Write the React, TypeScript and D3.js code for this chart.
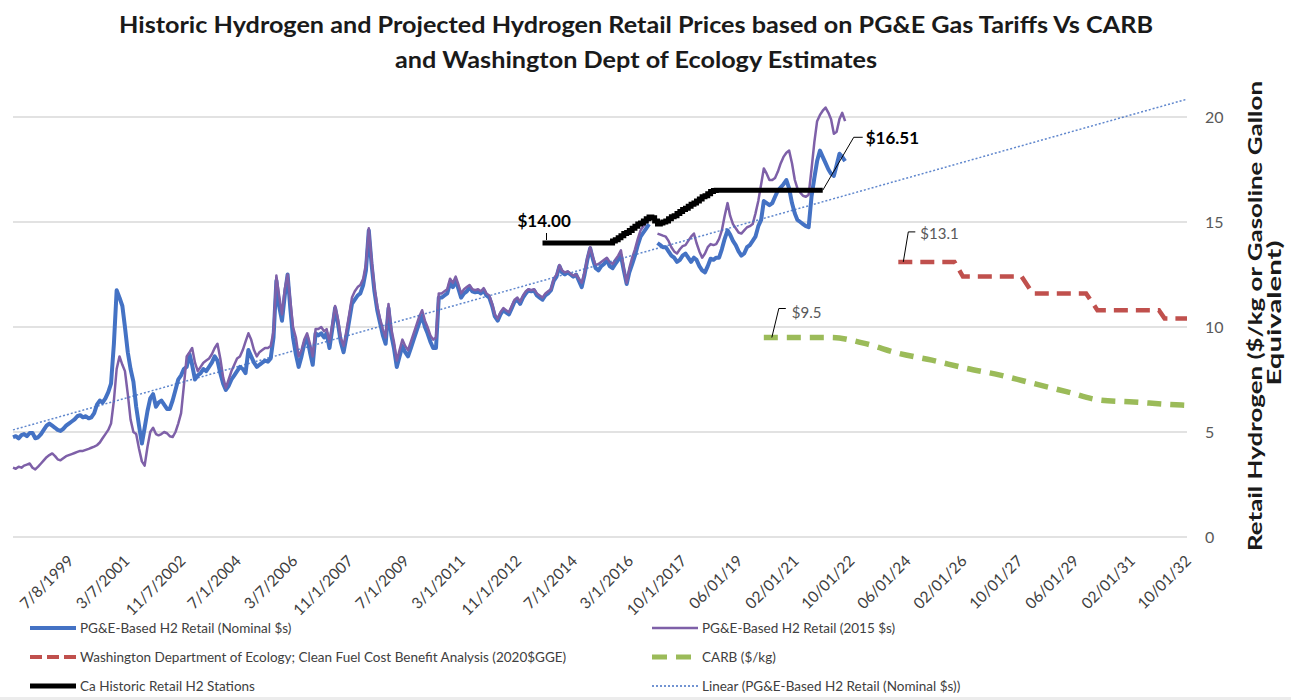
import { useEffect, useRef } from 'react';
import * as d3 from 'd3';

const WIDTH = 1291;
const HEIGHT = 700;
const FONT = 'Lato, "Open Sans", "DejaVu Sans", sans-serif';

const titleLines = [
  'Historic Hydrogen and Projected Hydrogen Retail Prices based on PG&E Gas Tariffs Vs CARB',
  'and Washington Dept of Ecology Estimates',
];
const yAxisTitle = ['Retail Hydrogen ($/kg or Gasoline Gallon', 'Equivalent)'];
const yTicks = [0, 5, 10, 15, 20];
const xTickLabels = [
  '7/8/1999', '3/7/2001', '11/7/2002', '7/1/2004', '3/7/2006', '11/1/2007', '7/1/2009',
  '3/1/2011', '11/1/2012', '7/1/2014', '3/1/2016', '10/1/2017', '06/01/19', '02/01/21',
  '10/01/22', '06/01/24', '02/01/26', '10/01/27', '06/01/29', '02/01/31', '10/01/32',
];

// monthly values, first month = Nov 1997
const seriesStart = '1997-11-01';
const nominalPrices = [
  4.75, 4.8, 4.7, 4.85, 4.9, 4.8, 4.95, 4.95, 4.7, 4.75,
  4.9, 5.1, 5.3, 5.4, 5.3, 5.2, 5.1, 5.05, 5.15, 5.3,
  5.4, 5.5, 5.6, 5.75, 5.8, 5.7, 5.75, 5.65, 5.7, 5.9,
  6.3, 6.5, 6.4, 6.6, 6.9, 7.3, 9.2, 11.75, 11.4, 11.0,
  10.0, 8.8, 8.0, 7.4, 6.2, 5.3, 4.45, 5.2, 6.0, 6.6,
  6.8, 6.2, 6.4, 6.5, 6.3, 6.1, 6.1, 6.5, 7.0, 7.5,
  7.7, 8.0, 8.1, 8.7, 8.2, 7.5, 7.7, 7.8, 8.0, 7.9,
  8.1, 8.3, 8.6, 8.4, 7.8, 7.3, 7.0, 7.2, 7.5, 7.7,
  7.9, 8.1, 8.0, 7.8, 8.9, 8.6, 8.3, 8.1, 8.2, 8.3,
  8.4, 8.35, 8.5, 9.5, 12.2, 11.0, 10.3, 11.5, 12.5, 10.8,
  9.5, 8.7, 8.1, 8.6, 9.2, 9.5, 8.8, 8.2, 9.7, 9.6,
  9.7, 9.5, 9.7, 9.0, 9.9, 10.9, 10.2, 9.3, 8.8, 9.5,
  10.3, 11.1, 11.3, 11.5, 11.6, 12.0, 12.7, 14.6, 13.0, 11.7,
  10.8, 10.2, 9.6, 9.2, 10.9, 9.6, 9.0, 8.1, 8.6, 9.1,
  8.8, 8.6, 9.0, 9.4, 9.8, 10.2, 10.5, 10.0, 9.7, 9.3,
  9.0, 9.0, 11.4, 11.4, 11.5, 11.6, 12.1, 11.9, 12.2, 11.8,
  11.4, 11.6, 11.7, 11.9, 11.7, 11.65, 11.7, 11.6, 11.75, 11.5,
  11.4, 11.0, 10.5, 10.3, 10.6, 10.8, 10.7, 10.6, 10.9, 11.2,
  11.3, 11.1, 11.4, 11.6, 11.75, 11.7, 11.75, 11.5, 11.4, 11.3,
  11.5, 11.6, 11.75, 12.2, 12.4, 12.9, 12.6, 12.5, 12.6, 12.5,
  12.4, 12.5, 12.2, 11.9, 12.5, 13.2, 13.75, 13.2, 12.8, 12.7,
  12.9, 13.0, 13.2, 12.9, 12.8, 13.0, 13.2, 13.4, 12.7, 12.05,
  12.6, 13.0, 13.4, 13.9, 14.3, 14.5, 14.7, 14.9, null, null,
  14.0, 13.9, 13.8, 13.8, 13.6, 13.4, 13.3, 13.1, 13.2, 13.4,
  13.5, 13.3, 13.1, 13.3, 13.2, 12.9, 12.7, 12.6, 12.9, 13.25,
  13.2, 13.3, 13.3, 13.7, 14.2, 14.6, 14.4, 14.1, 13.9, 13.6,
  13.4, 13.5, 13.8, 13.9, 14.1, 14.3, 14.8, 15.1, 16.0, 15.9,
  15.8, 15.9, 16.2, 16.5, 16.65, 16.8, 17.0, 16.6, 15.9, 15.4,
  15.1, 15.0, 14.9, 14.8, 14.75, 16.2, 17.1, 17.9, 18.4, 18.1,
  17.8, 17.5, 17.3, 17.2, 17.7, 18.25, 18.1, 17.9,
];
const realPrices = [
  3.3, 3.25, 3.35, 3.3, 3.4, 3.45, 3.5, 3.3, 3.22, 3.35,
  3.5, 3.65, 3.8, 3.9, 3.98, 3.85, 3.7, 3.65, 3.75, 3.85,
  3.9, 3.95, 4.0, 4.05, 4.1, 4.1, 4.15, 4.2, 4.25, 4.3,
  4.37, 4.5, 4.7, 4.9, 5.1, 5.4, 6.5, 8.0, 8.6, 8.2,
  7.9, 6.8, 5.6, 5.0, 4.9, 4.2, 3.6, 3.4, 4.3, 5.0,
  5.2, 4.9, 4.84, 4.9, 5.0, 4.94, 4.8, 4.76, 5.0, 5.4,
  5.9, 7.2, 8.6, 8.8, 9.0, 8.3, 7.9, 8.1, 8.3, 8.4,
  8.5, 8.7, 9.0, 9.2, 8.5, 7.6, 7.1, 7.5, 7.9, 8.2,
  8.5, 8.6, 8.9, 9.3, 9.7, 9.4, 8.9, 8.6, 8.8, 8.9,
  9.0, 9.0, 9.1, 9.8, 12.45, 11.5, 10.6, 11.8, 12.5, 11.2,
  10.0, 9.5, 8.6, 8.9, 9.4, 9.7, 9.2, 8.6, 9.9, 9.9,
  10.0, 9.8, 9.9, 9.3, 10.1, 11.0, 10.4, 9.5, 9.1, 9.8,
  10.6, 11.4, 11.7, 11.9, 12.0, 12.3, 13.0, 14.7, 13.2, 11.9,
  11.0, 10.4, 9.9, 9.5, 11.1, 9.9, 9.3, 8.4, 8.9, 9.4,
  9.1, 8.9, 9.3, 9.7, 10.1, 10.5, 10.8, 10.3, 10.0, 9.6,
  9.4, 9.5, 11.6, 11.6, 11.7, 11.8, 12.3, 12.1, 12.4, 12.0,
  11.6, 11.8, 11.9, 12.0, 11.8, 11.75, 11.8, 11.7, 11.85, 11.6,
  11.5, 11.1, 10.6, 10.4, 10.7, 10.9, 10.8, 10.7, 11.0, 11.3,
  11.4, 11.2, 11.5, 11.7, 11.8, 11.75, 11.8, 11.6, 11.5, 11.4,
  11.6, 11.7, 11.8, 12.3, 12.5, 12.95, 12.7, 12.6, 12.65, 12.55,
  12.45, 12.5, 12.3, 12.1, 12.6, 13.3, 13.8, 13.3, 12.95, 13.0,
  13.1, 13.2, 13.3, 13.1, 13.0, 13.2, 13.4, 13.65, 12.8, 12.1,
  12.8, 13.3, 13.7, 14.2, 14.6, 14.8, 15.0, 15.1, null, null,
  14.45, 14.4, 14.35, 14.3, 14.1, 13.8, 13.6, 13.5, 13.7, 13.85,
  13.9, 14.1, 14.3, 14.45, 14.0, 13.6, 13.3, 13.5, 13.8, 13.95,
  13.9, 13.95, 14.2, 14.6, 15.3, 15.9, 15.3, 14.9, 14.7, 14.5,
  14.45, 14.6, 14.75, 14.8, 14.9, 15.4, 16.0, 16.8, 17.55, 17.3,
  17.0, 17.0, 17.1, 17.4, 17.8, 18.1, 18.3, 18.4, 17.8, 17.0,
  16.6, 16.4, 16.25, 16.2, 16.3, 17.5, 18.8, 19.8, 20.1, 20.3,
  20.45, 20.2, 19.9, 19.2, 19.3, 19.9, 20.2, 19.8,
];

// monthly, first month = Aug 2013
const stationStart = '2013-08-01';
const stationPrices = [
  14.0, 14.0, 14.0, 14.0, 14.0, 14.0, 14.0, 14.0, 14.0, 14.0,
  14.0, 14.0, 14.0, 14.0, 14.0, 14.0, 14.0, 14.0, 14.0, 14.0,
  14.0, 14.0, 14.0, 14.0, 14.0,
  14.1, 14.15, 14.25, 14.35, 14.45, 14.5, 14.6, 14.7, 14.8, 14.9, 14.95, 15.05, 15.15, 15.24,
  15.2, 15.05, 14.9, 14.95,
  15.0, 15.05, 15.15, 15.25, 15.3, 15.4, 15.5, 15.6, 15.65, 15.75,
  15.85, 15.9, 16.0, 16.1, 16.2, 16.25, 16.35, 16.45, 16.5, 16.51,
  16.51, 16.51, 16.51, 16.51, 16.51, 16.51, 16.51, 16.51, 16.51, 16.51,
  16.51, 16.51, 16.51, 16.51, 16.51, 16.51, 16.51, 16.51, 16.51, 16.51,
  16.51, 16.51, 16.51, 16.51, 16.51, 16.51, 16.51, 16.51, 16.51, 16.51,
  16.51, 16.51, 16.51, 16.51, 16.51, 16.51, 16.51, 16.51,
];

const waDates = ['2024-03-01', '2025-11-01', '2026-02-01', '2027-11-01', '2028-03-01', '2029-10-01', '2030-02-01', '2031-12-01', '2032-02-01', '2032-10-01'];
const waPrices = [13.1, 13.1, 12.4, 12.4, 11.6, 11.6, 10.8, 10.8, 10.4, 10.4];

const carbDates = ['2020-03-01', '2021-03-01', '2022-03-01', '2023-03-01', '2024-03-01', '2025-03-01', '2026-03-01', '2027-03-01', '2028-03-01', '2029-03-01', '2030-03-01', '2031-03-01', '2032-03-01', '2032-10-01'];
const carbPrices = [9.5, 9.5, 9.5, 9.22, 8.75, 8.42, 8.04, 7.72, 7.32, 6.92, 6.52, 6.43, 6.32, 6.27];

const trendDates = ['1997-11-01', '2032-10-01'];
const trendPrices = [5.1, 20.85];

const BLUE = '#4472C4';
const PURPLE = '#7E60A8';
const RED = '#C0504D';
const GREEN = '#9BBB59';

const legendItems = [
  { label: 'PG&E-Based H2 Retail (Nominal $s)', color: BLUE, width: 4, dash: null, col: 0, row: 0 },
  { label: 'Washington Department of Ecology; Clean Fuel Cost Benefit Analysis (2020$GGE)', color: RED, width: 4, dash: '12,5', col: 0, row: 1 },
  { label: 'Ca Historic Retail H2 Stations', color: '#000', width: 5, dash: null, col: 0, row: 2 },
  { label: 'PG&E-Based H2 Retail (2015 $s)', color: PURPLE, width: 2.5, dash: null, col: 1, row: 0 },
  { label: 'CARB ($/kg)', color: GREEN, width: 5, dash: '15,9', col: 1, row: 1 },
  { label: 'Linear (PG&E-Based H2 Retail (Nominal $s))', color: BLUE, width: 1.5, dash: '2,2', col: 1, row: 2 },
];

const parseIso = d3.timeParse('%Y-%m-%d');

function parseLabel(s: string) {
  const [m, d, y] = s.split('/').map(Number);
  return new Date(y < 100 ? 2000 + y : y, m - 1, d);
}

function monthly(start: string, values: (number | null)[]) {
  const s = parseIso(start) as Date;
  return values.map((v, i) => ({ date: d3.timeMonth.offset(s, i), value: v }));
}

function dated(dates: string[], values: number[]) {
  return dates.map((d, i) => ({ date: parseIso(d) as Date, value: values[i] }));
}

type Pt = { date: Date; value: number | null };

export default function App() {
  const svgRef = useRef<SVGSVGElement>(null);

  useEffect(() => {
    if (!svgRef.current) return;
    const svg = d3.select(svgRef.current);
    svg.selectAll('*').remove();

    const x = d3.scaleTime()
      .domain([parseIso('1997-11-01') as Date, parseIso('2032-10-01') as Date])
      .range([13, 1187]);
    const y = d3.scaleLinear().domain([0, 20]).range([537, 117]);

    const line = d3.line<Pt>()
      .defined(d => d.value != null)
      .x(d => x(d.date))
      .y(d => y(d.value as number));

    // title
    const titleWidths = [1034, 482];
    svg.append('g')
      .selectAll('text')
      .data(titleLines)
      .join('text')
      .attr('x', 636)
      .attr('y', (_, i) => 33 + i * 35)
      .attr('text-anchor', 'middle')
      .attr('font-family', FONT)
      .attr('font-weight', 700)
      .attr('font-size', 22)
      .attr('fill', '#1a1a1a')
      .attr('textLength', (_, i) => titleWidths[i])
      .attr('lengthAdjust', 'spacingAndGlyphs')
      .text(d => d);

    // gridlines + right axis labels
    svg.append('g')
      .selectAll('line')
      .data(yTicks)
      .join('line')
      .attr('x1', 13)
      .attr('x2', 1187)
      .attr('y1', d => y(d))
      .attr('y2', d => y(d))
      .attr('stroke', '#d9d9d9')
      .attr('stroke-width', 1.5);

    svg.append('g')
      .selectAll('text')
      .data(yTicks)
      .join('text')
      .attr('x', 1205)
      .attr('y', d => y(d) + 6)
      .attr('font-family', FONT)
      .attr('font-size', 16)
      .attr('fill', '#595959')
      .text(d => d);

    const yTitleWidths = [470, 145];
    const yTitleX = [1262, 1281];
    svg.append('g')
      .selectAll('text')
      .data(yAxisTitle)
      .join('text')
      .attr('transform', (_, i) => `translate(${yTitleX[i]},${i === 0 ? 316 : 313}) rotate(-90)`)
      .attr('text-anchor', 'middle')
      .attr('font-family', FONT)
      .attr('font-weight', 700)
      .attr('font-size', 19)
      .attr('fill', '#1a1a1a')
      .attr('textLength', (_, i) => yTitleWidths[i])
      .attr('lengthAdjust', 'spacingAndGlyphs')
      .text(d => d);

    // x labels
    svg.append('g')
      .selectAll('text')
      .data(xTickLabels)
      .join('text')
      .attr('transform', d => `translate(${x(parseLabel(d)) + 5},562) rotate(-45)`)
      .attr('text-anchor', 'end')
      .attr('font-family', FONT)
      .attr('font-size', 15.5)
      .attr('fill', '#404040')
      .text(d => d);

    const plot = svg.append('g');

    plot.append('path')
      .datum(dated(waDates, waPrices))
      .attr('d', line)
      .attr('fill', 'none')
      .attr('stroke', RED)
      .attr('stroke-width', 4.5)
      .attr('stroke-dasharray', '14,8');

    plot.append('path')
      .datum(dated(carbDates, carbPrices))
      .attr('d', line.curve(d3.curveMonotoneX))
      .attr('fill', 'none')
      .attr('stroke', GREEN)
      .attr('stroke-width', 5.5)
      .attr('stroke-dasharray', '14,9');
    line.curve(d3.curveLinear);

    plot.append('path')
      .datum(monthly(seriesStart, nominalPrices))
      .attr('d', line)
      .attr('fill', 'none')
      .attr('stroke', BLUE)
      .attr('stroke-width', 4)
      .attr('stroke-linejoin', 'round');

    plot.append('path')
      .datum(monthly(seriesStart, realPrices))
      .attr('d', line)
      .attr('fill', 'none')
      .attr('stroke', PURPLE)
      .attr('stroke-width', 2.5)
      .attr('stroke-linejoin', 'round');

    const station = monthly(stationStart, stationPrices);
    plot.append('path')
      .datum(station)
      .attr('d', line.curve(d3.curveStepAfter))
      .attr('fill', 'none')
      .attr('stroke', '#000')
      .attr('stroke-width', 5);
    line.curve(d3.curveLinear);

    plot.append('path')
      .datum(dated(trendDates, trendPrices))
      .attr('d', line)
      .attr('fill', 'none')
      .attr('stroke', BLUE)
      .attr('stroke-width', 1.5)
      .attr('stroke-dasharray', '2,2')
      .attr('opacity', 0.85);

    // data labels
    const notes = svg.append('g').attr('font-family', FONT);
    const first = station[0];
    const last = station[station.length - 1];
    const fx = x(first.date), fy = y(first.value as number);
    const lx = x(last.date), ly = y(last.value as number);

    notes.append('path')
      .attr('d', `M${fx + 4},${fy - 3}V${fy - 10}`)
      .attr('stroke', '#000').attr('stroke-width', 1).attr('fill', 'none');
    notes.append('text')
      .attr('x', fx - 25).attr('y', fy - 16)
      .attr('font-size', 17).attr('font-weight', 700).attr('fill', '#000')
      .text('$14.00');

    notes.append('path')
      .attr('d', `M${lx},${ly}L${lx + 31},${ly - 53}H${lx + 40}`)
      .attr('stroke', '#000').attr('stroke-width', 1).attr('fill', 'none');
    notes.append('text')
      .attr('x', lx + 43).attr('y', ly - 46)
      .attr('font-size', 17).attr('font-weight', 700).attr('fill', '#000')
      .text('$16.51');

    const wx = x(parseIso(waDates[0]) as Date), wy = y(waPrices[0]);
    notes.append('path')
      .attr('d', `M${wx + 5},${wy}L${wx + 10},${wy - 30}H${wx + 17}`)
      .attr('stroke', '#000').attr('stroke-width', 1).attr('fill', 'none');
    notes.append('text')
      .attr('x', wx + 22).attr('y', wy - 23)
      .attr('font-size', 15).attr('fill', '#595959')
      .text('$' + waPrices[0]);

    const cx = x(parseIso(carbDates[0]) as Date), cy = y(carbPrices[0]);
    notes.append('path')
      .attr('d', `M${cx + 8},${cy}L${cx + 15},${cy - 29}H${cx + 22}`)
      .attr('stroke', '#000').attr('stroke-width', 1).attr('fill', 'none');
    notes.append('text')
      .attr('x', cx + 28).attr('y', cy - 20)
      .attr('font-size', 15).attr('fill', '#595959')
      .text('$' + carbPrices[0]);

    // legend
    const colX = [30, 652];
    const rowY = [628, 657, 686];
    const legend = svg.append('g')
      .selectAll('g')
      .data(legendItems)
      .join('g')
      .attr('transform', d => `translate(${colX[d.col]},${rowY[d.row]})`);
    legend.append('line')
      .attr('x1', 0)
      .attr('x2', 46)
      .attr('stroke', d => d.color)
      .attr('stroke-width', d => d.width)
      .attr('stroke-dasharray', d => d.dash);
    legend.append('text')
      .attr('x', 50)
      .attr('y', 4.5)
      .attr('font-family', FONT)
      .attr('font-size', 13.5)
      .attr('fill', '#404040')
      .text(d => d.label);

    svg.append('rect')
      .attr('x', 0).attr('y', 697).attr('width', WIDTH).attr('height', 3)
      .attr('fill', '#ececec');
  }, []);

  return (
    <svg
      ref={svgRef}
      width={WIDTH}
      height={HEIGHT}
      style={{ position: 'absolute', left: 0, top: 0, background: '#fff' }}
    />
  );
}
